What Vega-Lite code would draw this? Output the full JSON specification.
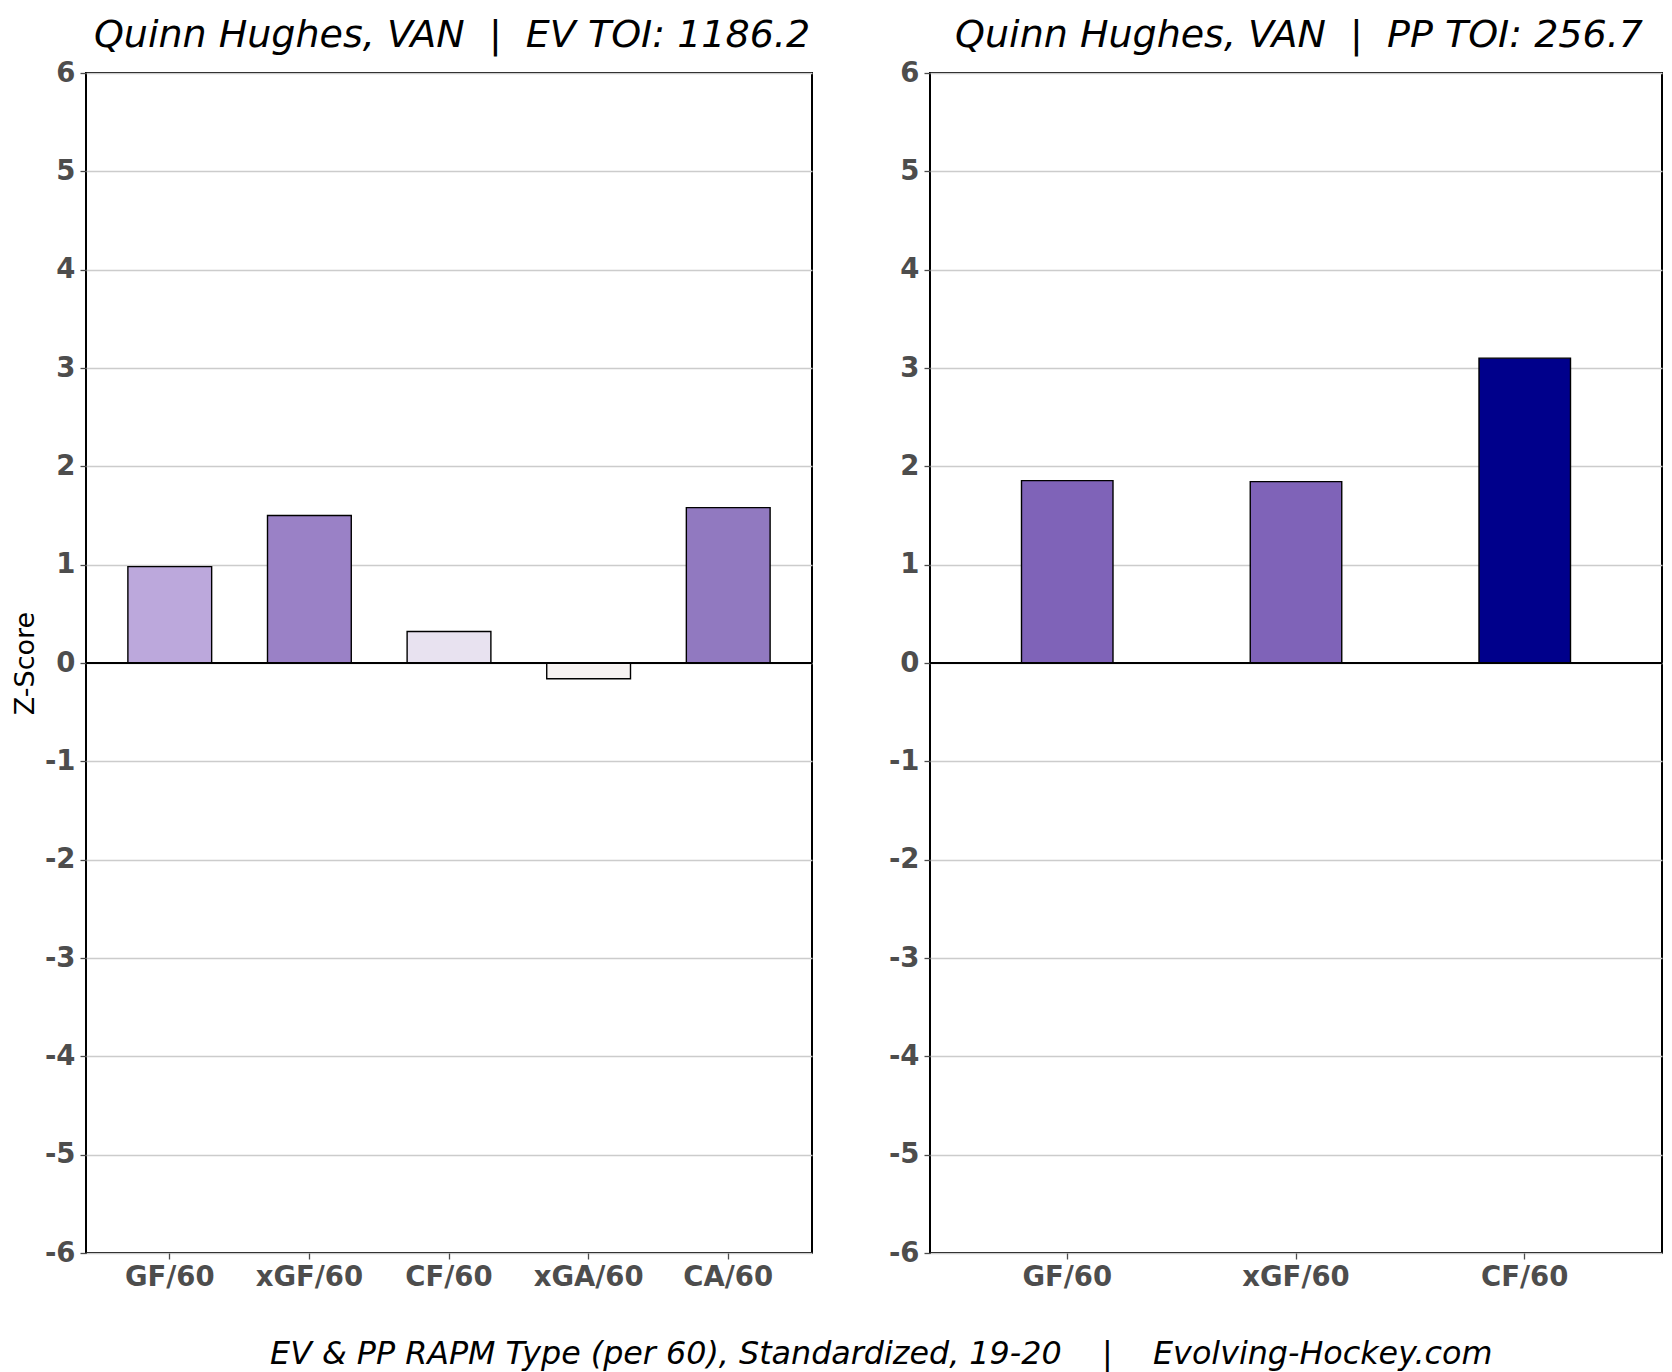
{
  "$schema": "https://vega.github.io/schema/vega-lite/v6.json",
  "background": "white",
  "padding": {"left": 10, "top": 16, "right": 10, "bottom": 5},
  "autosize": {"type": "pad"},
  "datasets": {
    "ev": [
      {"metric": "GF/60", "z": 0.98},
      {"metric": "xGF/60", "z": 1.5},
      {"metric": "CF/60", "z": 0.32},
      {"metric": "xGA/60", "z": -0.16},
      {"metric": "CA/60", "z": 1.58}
    ],
    "pp": [
      {"metric": "GF/60", "z": 1.855},
      {"metric": "xGF/60", "z": 1.845},
      {"metric": "CF/60", "z": 3.1}
    ]
  },
  "title": {
    "text": "EV & PP RAPM Type (per 60), Standardized, 19-20\u00a0\u00a0\u00a0\u00a0|\u00a0\u00a0\u00a0\u00a0Evolving-Hockey.com",
    "orient": "bottom",
    "anchor": "middle",
    "font": "DejaVu Sans",
    "fontSize": 31.75,
    "fontStyle": "italic",
    "fontWeight": "normal",
    "color": "black",
    "baseline": "alphabetic",
    "offset": 72,
    "dx": 44
  },
  "spacing": 118,
  "bounds": "flush",
  "resolve": {"scale": {"color": "independent", "x": "independent", "y": "independent"}},
  "hconcat": [
    {
      "width": 726,
      "height": 1180,
      "title": {"text": "Quinn Hughes, VAN\u00a0\u00a0|\u00a0\u00a0EV TOI: 1186.2", "dx": 3},
      "layer": [
        {
          "data": {"name": "ev"},
          "mark": {"type": "bar", "stroke": "black", "strokeWidth": 1.4},
          "encoding": {
            "x": {
              "field": "metric", "type": "nominal", "sort": null,
              "scale": {"paddingInner": 0.4, "paddingOuter": 0.3},
              "axis": {"title": null}
            },
            "y": {
              "field": "z", "type": "quantitative",
              "scale": {"domain": [-6, 6], "nice": false, "zero": false},
              "axis": {"title": "Z-Score", "values": [-6, -5, -4, -3, -2, -1, 0, 1, 2, 3, 4, 5, 6], "labelExpr": "'' + datum.value"}
            },
            "color": {
              "field": "metric", "type": "nominal",
              "scale": {"domain": ["GF/60", "xGF/60", "CF/60", "xGA/60", "CA/60"], "range": ["#bca8dc", "#9a81c6", "#e8e2f0", "#f6f2f1", "#9179c0"]},
              "legend": null
            }
          }
        },
        {
          "data": {"values": [{}]},
          "mark": {"type": "rule", "color": "black", "strokeWidth": 2},
          "encoding": {"y": {"datum": 0}}
        }
      ]
    },
    {
      "width": 732,
      "height": 1180,
      "title": {"text": "Quinn Hughes, VAN\u00a0\u00a0|\u00a0\u00a0PP TOI: 256.7", "dx": 3},
      "layer": [
        {
          "data": {"name": "pp"},
          "mark": {"type": "bar", "stroke": "black", "strokeWidth": 1.4},
          "encoding": {
            "x": {
              "field": "metric", "type": "nominal", "sort": null,
              "scale": {"paddingInner": 0.6, "paddingOuter": 0.4},
              "axis": {"title": null}
            },
            "y": {
              "field": "z", "type": "quantitative",
              "scale": {"domain": [-6, 6], "nice": false, "zero": false},
              "axis": {"title": null, "values": [-6, -5, -4, -3, -2, -1, 0, 1, 2, 3, 4, 5, 6], "labelExpr": "'' + datum.value"}
            },
            "color": {
              "field": "metric", "type": "nominal",
              "scale": {"domain": ["GF/60", "xGF/60", "CF/60"], "range": ["#7f63b8", "#7f63b8", "#00008b"]},
              "legend": null
            }
          }
        },
        {
          "data": {"values": [{}]},
          "mark": {"type": "rule", "color": "black", "strokeWidth": 2},
          "encoding": {"y": {"datum": 0}}
        }
      ]
    }
  ],
  "config": {
    "font": "DejaVu Sans",
    "view": {"stroke": "black", "strokeWidth": 2},
    "title": {
      "font": "DejaVu Sans",
      "fontSize": 38,
      "fontStyle": "italic",
      "fontWeight": "normal",
      "color": "black",
      "anchor": "middle",
      "baseline": "alphabetic",
      "offset": 4
    },
    "axis": {
      "labelFont": "DejaVu Sans",
      "labelFontSize": 27.5,
      "labelFontWeight": "bold",
      "labelColor": "#4d4d4d",
      "tickColor": "#4d4d4d",
      "tickSize": 6,
      "tickWidth": 1.3,
      "labelPadding": 5,
      "domain": false,
      "titleFont": "DejaVu Sans",
      "titleFontSize": 27,
      "titleFontWeight": "normal",
      "titleColor": "black",
      "titlePadding": 5
    },
    "axisX": {"grid": false, "labelAngle": 0, "labelPadding": 4},
    "axisY": {"grid": true, "gridColor": "#cccccc", "gridWidth": 1.3}
  }
}
